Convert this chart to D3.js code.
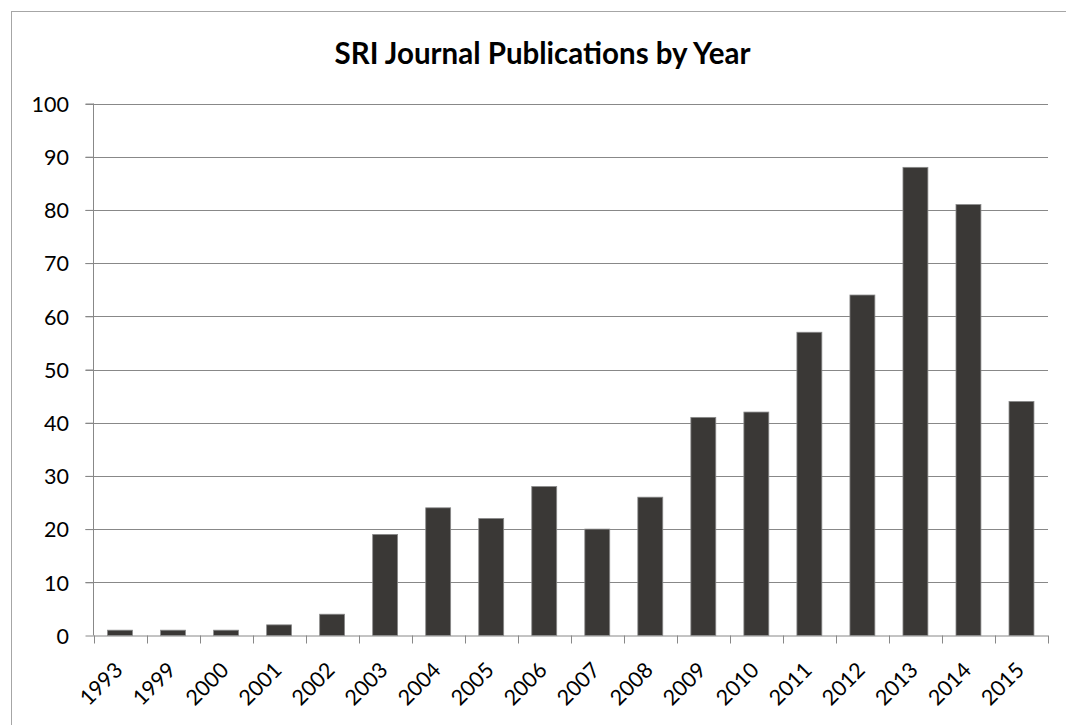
<!DOCTYPE html>
<html><head><meta charset="utf-8">
<script src="https://cdn.jsdelivr.net/npm/d3@7"></script>
<style>body{margin:0;background:#fff}svg{display:block}</style>
</head><body>
<script>
const years = ["1993","1999","2000","2001","2002","2003","2004","2005","2006","2007","2008","2009","2010","2011","2012","2013","2014","2015"];
const counts = [1,1,1,2,4,19,24,22,28,20,26,41,42,57,64,88,81,44];
const yTicks = [0,10,20,30,40,50,60,70,80,90,100];
const title = "SRI Journal Publications by Year";

(function () {
const W = 1066, H = 725;
const svg = d3.select("body").append("svg").attr("width", W).attr("height", H);
svg.append("rect").attr("x", 11.5).attr("y", 11.5).attr("width", W + 20).attr("height", H + 20)
  .attr("fill", "#fff").attr("stroke", "#a6a6a6").attr("stroke-width", 1);

const pLeft = 93.5, pRight = 1048, pTop = 103.5, pBottom = 635.5;
const x = d3.scaleBand().domain(years).range([pLeft, pRight]).paddingInner(0.53).paddingOuter(0.265);
const y = d3.scaleLinear().domain([0, 100]).range([pBottom, pTop]);

svg.append("g").selectAll("line").data(yTicks.filter(d => d > 0)).join("line")
  .attr("x1", pLeft - 8).attr("x2", pRight).attr("y1", d => Math.round(y(d)) + 0.5).attr("y2", d => Math.round(y(d)) + 0.5)
  .attr("stroke", "#888").attr("stroke-width", 1);

const yAxis = svg.append("g").attr("transform", `translate(${pLeft},0)`)
  .call(d3.axisLeft(y).tickValues(yTicks).tickSize(8).tickPadding(16.5));
yAxis.select(".domain").attr("stroke", "#888").attr("d", `M0,${pBottom}V${pTop}`);
yAxis.selectAll(".tick line").attr("stroke", "#888");
yAxis.selectAll("text").attr("font-family", "Lato, sans-serif").attr("font-size", 21.5).attr("fill", "#000").attr("dy", "0.36em");

svg.append("g").selectAll("rect").data(counts).join("rect")
  .attr("x", (d, i) => x(years[i])).attr("width", x.bandwidth())
  .attr("y", d => y(d)).attr("height", d => y(0) - y(d))
  .attr("fill", "#3a3836").attr("stroke", "#8a8a8a").attr("stroke-width", 0.8);

const xAxis = svg.append("g").attr("transform", `translate(0,${pBottom})`)
  .call(d3.axisBottom(x).tickSize(0).tickPadding(0));
xAxis.select(".domain").attr("stroke", "#888").attr("d", `M${pLeft},0.5H${pRight}`);
const step = x.step();
svg.append("g").selectAll("line").data(d3.range(years.length + 1)).join("line")
  .attr("x1", i => Math.round(pLeft + i * step) + 0.5).attr("x2", i => Math.round(pLeft + i * step) + 0.5)
  .attr("y1", pBottom).attr("y2", pBottom + 8).attr("stroke", "#888");
xAxis.selectAll("text")
  .attr("font-family", "Lato, sans-serif").attr("font-size", 21.5).attr("fill", "#000")
  .attr("text-anchor", "end").attr("dy", 0)
  .attr("transform", "translate(4,36) rotate(-45)");

svg.append("text").attr("x", 542.5).attr("y", 64).attr("text-anchor", "middle")
  .attr("font-family", "Lato, sans-serif").attr("font-weight", "bold").attr("font-size", 29.5)
  .attr("fill", "#000").text(title);
})();
</script>
</body></html>
